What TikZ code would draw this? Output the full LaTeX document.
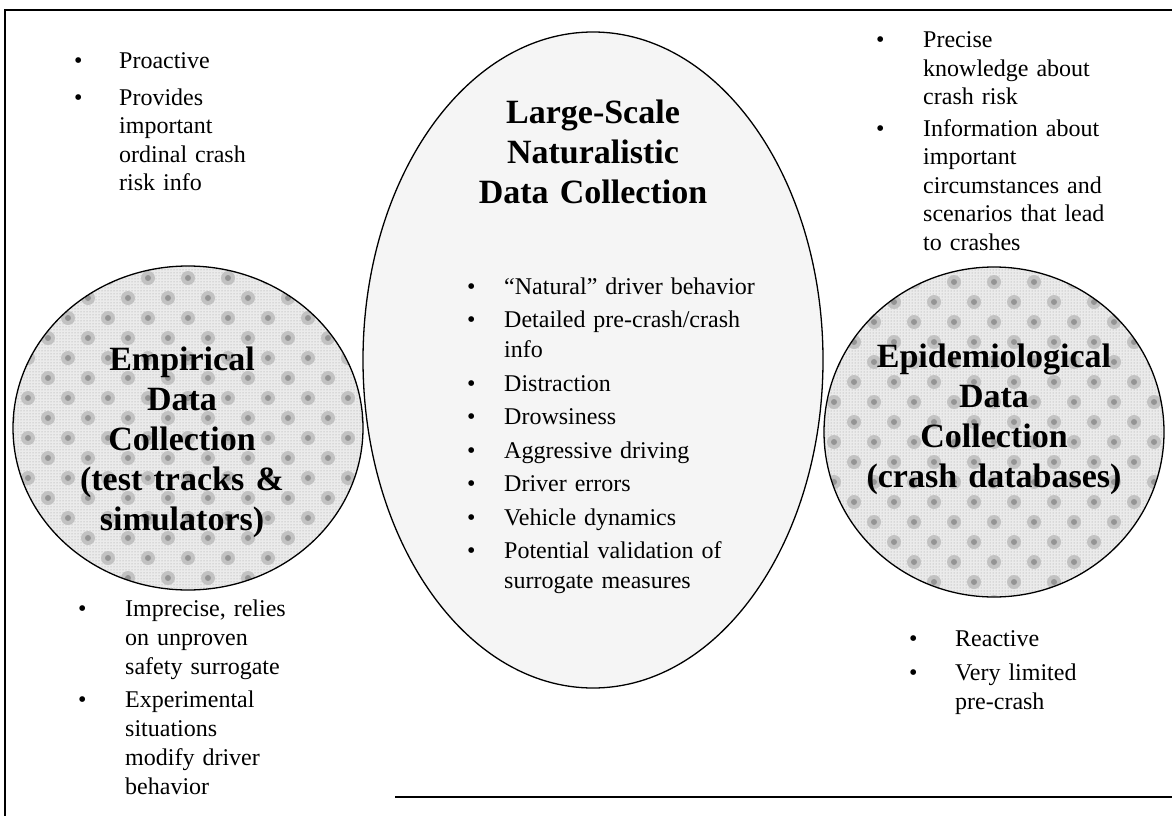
\documentclass[tikz,border=0pt]{standalone}
\usepackage{fontspec}
\setmainfont{Liberation Serif}
\usetikzlibrary{shapes.geometric,patterns}
\newlength{\bind}
\newcommand{\itm}[1]{\hangindent=\bind\hangafter=1\noindent\hbox to \bind{\textbullet\hfil}#1\par}
\newcommand{\igap}[1]{\vspace{#1}}
\newcommand{\blobs}[4]{%
  \begin{scope}
    \clip (#1,#2) ellipse [x radius=#3, y radius=#4];
    \foreach \r in {0,...,17}{\foreach \c in {0,...,9}{%
      \fill[blobhalo] ({#1-180+\c*40+mod(\r,2)*20},{#2-170+\r*20}) circle (7pt);
      \fill[blobcore] ({#1-180+\c*40+mod(\r,2)*20},{#2-170+\r*20}) circle (3pt);}}
  \end{scope}}
\begin{document}
\begin{tikzpicture}[x=1pt,y=-1pt,
  frameline/.style={line width=1.6pt, black},
  shapeline/.style={line width=1.3pt, black},
  bigoval/.style={ellipse, shapeline, draw, fill=black!4, inner sep=0pt},
  sideoval/.style={ellipse, fill=black!8, inner sep=0pt,
    postaction={pattern=dots, pattern color=black!40}},
  blobhalo/.style={fill=black!24},
  blobcore/.style={fill=black!42},
  title/.style={anchor=base, align=center, text width=300pt, inner sep=0pt,
    font=\bfseries\fontsize{34}{40}\selectfont},
  list/.style={anchor=base west, inner sep=0pt, text width=#1}]
\useasboundingbox (0,0) rectangle (1172,816);
\fill[white] (0,0) rectangle (1172,816);

% frame
\coordinate (ftr) at (1172,10);
\coordinate (ftl) at (5,10);
\coordinate (fbl) at (5,816);
\coordinate (fbm) at (395,797);
\coordinate (fbr) at (1172,797);
\draw[frameline] (ftr) -- (ftl) -- (fbl);
\draw[frameline] (fbm) -- (fbr);

% central ellipse
\node[bigoval, minimum width=460pt, minimum height=656pt] (nat) at (593,360) {};

% left circle
\node[sideoval, minimum width=350pt, minimum height=324pt] (emp) at (188,428) {};
\blobs{188}{428}{175pt}{162pt}
\draw[shapeline] (emp.center) ellipse [x radius=175pt, y radius=162pt];

% right circle
\node[sideoval, minimum width=340pt, minimum height=330pt] (epi) at (994,432) {};
\blobs{994}{432}{170pt}{165pt}
\draw[shapeline] (epi.center) ellipse [x radius=170pt, y radius=165pt];

% titles
\node[title] (natT) at (593,123) {Large-Scale\\Naturalistic\\Data Collection};
\node[title] (empT) at (182,370) {Empirical\\Data\\Collection\\(test tracks \&\\simulators)};
\node[title] (epiT) at (994,367) {Epidemiological\\Data\\Collection\\(crash databases)};

% lists
\node[list=250pt, font=\fontsize{24}{28.5}\selectfont] (lt) at (74,69) {%
  \setlength{\bind}{45pt}%
  \itm{Proactive}\igap{8pt}%
  \itm{Provides\newline important\newline ordinal crash\newline risk info}};

\node[list=290pt, font=\fontsize{24}{28.5}\selectfont] (rt) at (876,48) {%
  \setlength{\bind}{47pt}%
  \itm{Precise\newline knowledge about\newline crash risk}\igap{3pt}%
  \itm{Information about\newline important\newline circumstances and\newline scenarios that lead\newline to crashes}};

\node[list=330pt, font=\fontsize{24}{30}\selectfont] (cl) at (467,294) {%
  \setlength{\bind}{37pt}%
  \itm{“Natural” driver behavior}\igap{3.5pt}%
  \itm{Detailed pre-crash/crash\newline info}\igap{3.5pt}%
  \itm{Distraction}\igap{3.5pt}%
  \itm{Drowsiness}\igap{3.5pt}%
  \itm{Aggressive driving}\igap{3.5pt}%
  \itm{Driver errors}\igap{3.5pt}%
  \itm{Vehicle dynamics}\igap{3.5pt}%
  \itm{Potential validation of\newline surrogate measures}};

\node[list=260pt, font=\fontsize{24}{29}\selectfont] (lb) at (78,616) {%
  \setlength{\bind}{47pt}%
  \itm{Imprecise, relies\newline on unproven\newline safety surrogate}\igap{4pt}%
  \itm{Experimental\newline situations\newline modify driver\newline behavior}};

\node[list=240pt, font=\fontsize{24}{29}\selectfont] (rb) at (909,646) {%
  \setlength{\bind}{46pt}%
  \itm{Reactive}\igap{5pt}%
  \itm{Very limited\newline pre-crash}};
\end{tikzpicture}
\end{document}
